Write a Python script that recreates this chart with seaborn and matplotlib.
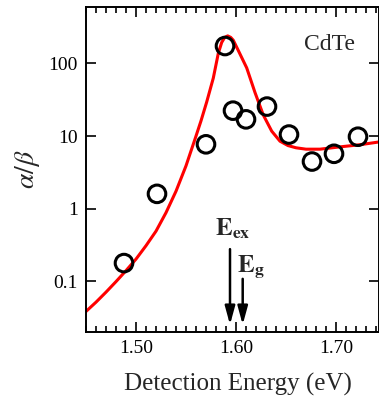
import numpy as np
import pandas as pd
import matplotlib
matplotlib.use("Agg")
import matplotlib.pyplot as plt
from matplotlib.ticker import FixedLocator, MultipleLocator, NullLocator
import seaborn as sns

# measured data points (open circles)
pt_energy = [1.488, 1.521, 1.570, 1.589, 1.597, 1.610, 1.631, 1.653, 1.676, 1.698, 1.722]
pt_ratio = [0.178, 1.6, 7.7, 174, 22.4, 17, 25.5, 10.5, 4.46, 5.7, 9.8]

# fitted curve (red line)
fit_energy = [1.45, 1.46, 1.47, 1.48, 1.49, 1.50, 1.51, 1.52, 1.53, 1.54,
              1.55, 1.56, 1.565, 1.5707, 1.5773, 1.5823, 1.5857, 1.5887, 1.5917, 1.5947,
              1.5973, 1.6023, 1.6107, 1.619, 1.6273, 1.6357, 1.644, 1.652, 1.66, 1.67,
              1.684, 1.704, 1.724, 1.743]
fit_ratio = [0.0384, 0.0515, 0.0708, 0.0989, 0.140, 0.202, 0.309, 0.490, 0.881, 1.74,
             3.89, 10.0, 16.2, 29.5, 63, 138, 195, 229, 240, 229,
             209, 151, 87, 39.8, 19.5, 11.7, 8.5, 7.4, 6.9, 6.6,
             6.6, 7.1, 7.6, 8.3]

x_ticks = [1.50, 1.60, 1.70]
x_ticklabels = ["1.50", "1.60", "1.70"]
y_ticks = [0.1, 1, 10, 100]
y_ticklabels = ["0.1", "1", "10", "100"]

sns.set_style("ticks")
plt.rcParams["font.family"] = ["Liberation Serif", "DejaVu Serif"]
plt.rcParams["mathtext.fontset"] = "stix"

W, H = 379, 398
fig = plt.figure(figsize=(W / 100, H / 100), dpi=100)
ax = fig.add_axes([86 / W, 1 - 332 / H, (378.5 - 86) / W, (332 - 7) / H])

fit_df = pd.DataFrame({"E": fit_energy, "r": fit_ratio})
pt_df = pd.DataFrame({"E": pt_energy, "r": pt_ratio})

sns.lineplot(data=fit_df, x="E", y="r", ax=ax, color="#ff0000", lw=2.2, zorder=2)
sns.scatterplot(data=pt_df, x="E", y="r", ax=ax, marker="o", s=160,
                facecolor="none", edgecolor="black", linewidth=2.2, zorder=3)

ax.set_yscale("log")
ax.set_xlim(1.45, 1.7425)
ax.set_ylim(0.02, 600)

ax.xaxis.set_major_locator(FixedLocator(x_ticks))
ax.set_xticklabels(x_ticklabels)
ax.xaxis.set_minor_locator(MultipleLocator(0.01))
ax.yaxis.set_major_locator(FixedLocator(y_ticks))
ax.set_yticklabels(y_ticklabels)
ax.yaxis.set_minor_locator(NullLocator())

ax.tick_params(which="both", direction="in", top=True, right=True, width=1.2, color="black")
ax.tick_params(which="major", length=7.2, labelsize=14, pad=6, labelcolor="black")
ax.tick_params(which="minor", length=4.3)
for s in ax.spines.values():
    s.set_linewidth(1.4)
    s.set_color("black")

ax.set_xlabel("Detection Energy (eV)", fontsize=18)
ax.xaxis.set_label_coords(0.521, -0.125)
ax.set_ylabel(r"$\alpha/\beta$", fontsize=20)
ax.yaxis.set_label_coords(-0.15, 0.5)

ax.text(0.834, 0.886, "CdTe", transform=ax.transAxes, fontsize=17,
        ha="center", va="center")

arrow_kw = dict(arrowstyle="-|>,head_length=1.1,head_width=0.3", lw=1.8,
                color="black", shrinkA=0, shrinkB=0, mutation_scale=10)
ax.annotate("", xy=(1.594, 0.0252), xytext=(1.594, 0.277), arrowprops=arrow_kw)
ax.annotate("", xy=(1.6067, 0.0252), xytext=(1.6067, 0.108), arrowprops=arrow_kw)
ax.text(1.597, 0.43, r"$\mathbf{E}_{\mathbf{ex}}$", fontsize=18, ha="center", va="baseline")
ax.text(1.6145, 0.134, r"$\mathbf{E}_{\mathbf{g}}$", fontsize=18, ha="center", va="baseline")

fig.savefig("out.png", dpi=100)
